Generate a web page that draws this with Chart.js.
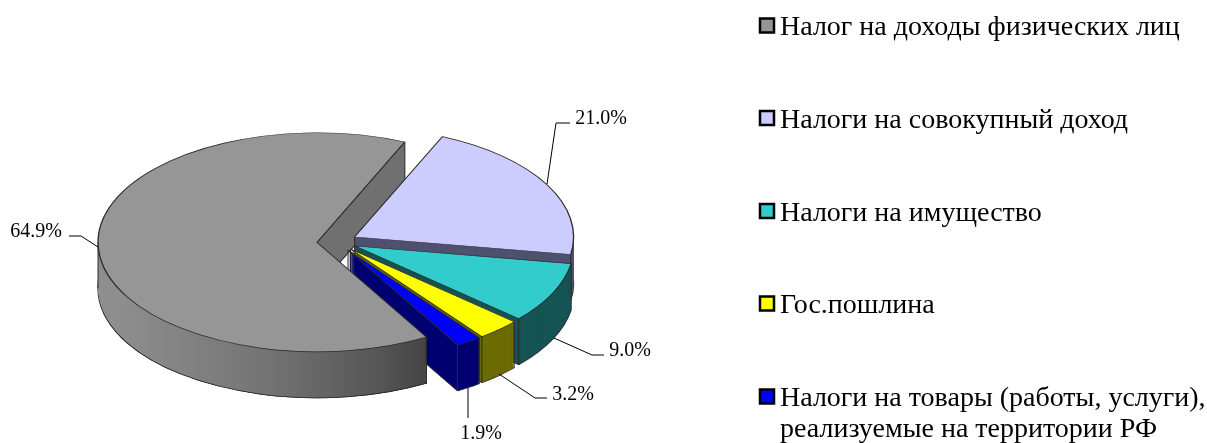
<!DOCTYPE html>
<html>
<head>
<meta charset="utf-8">
<script src="https://cdn.jsdelivr.net/npm/chart.js@4"></script>
<style>
  html, body { margin: 0; padding: 0; background: #fff; }
  #box { width: 1207px; height: 443px; }
</style>
</head>
<body>
<div id="box"><canvas id="taxPie"></canvas></div>
<script>
var categories = [
  "Налог на доходы физических лиц",
  "Налоги на совокупный доход",
  "Налоги на имущество",
  "Гос.пошлина",
  ["Налоги на товары (работы, услуги),", "реализуемые на территории РФ"]
];
var shares = [64.9, 21.0, 9.0, 3.2, 1.9];

var topColors = ["#969696", "#ccccff", "#33cccc", "#ffff00", "#0000ff"];
var sideColors = ["#707070", "#50506f", "#155454", "#6b6b00", "#000070"];

var SQUASH = 0.5;
var DEPTH = 46;
var EXPLODE = 20;
var EDGE = "#2b2b2b";

// leader lines and label spots for the percent labels, same order as shares
var leaders = [
  { pts: [[98, 247], [81, 236], [69, 236]], x: 36, y: 237 },
  { pts: [[547, 184], [556, 123], [570, 123]], x: 601, y: 124 },
  { pts: [[554, 338], [592, 355], [604, 355]], x: 630, y: 356 },
  { pts: [[499, 374], [535, 398], [547, 398]], x: 573, y: 400 },
  { pts: [[468, 388], [468, 418]], x: 481, y: 439 }
];
var legendY = [25.5, 118, 211, 303.5, 396.5];

function drawFace(ctx, el, dy, fill, borderWidth) {
  ctx.save();
  ctx.translate(0, el.y + dy);
  ctx.scale(1, SQUASH);
  ctx.translate(0, -el.y);
  var saved = { options: el.options, r: el.outerRadius, a: el.startAngle, b: el.endAngle };
  // Chart.js grows small exploded arcs and trims their ends a bit,
  // take that back out so all slices keep the same radius and true angles
  var grow = EXPLODE * (1 - Math.sin(Math.min(Math.PI, el.circumference)));
  var trim = (grow / Math.PI) / saved.r / 2;
  el.outerRadius = saved.r - grow;
  el.startAngle = saved.a - trim;
  el.endAngle = saved.b + trim;
  el.options = Object.assign({}, saved.options, {
    backgroundColor: fill,
    borderColor: EDGE,
    borderWidth: borderWidth
  });
  el.draw(ctx);
  el.options = saved.options;
  el.outerRadius = saved.r;
  el.startAngle = saved.a;
  el.endAngle = saved.b;
  ctx.restore();
}

function vertex(el) {
  var mid = (el.startAngle + el.endAngle) / 2;
  return {
    x: el.x + Math.cos(mid) * EXPLODE,
    y: el.y + Math.sin(mid) * EXPLODE * SQUASH
  };
}

function rim(el, a) {
  var v = vertex(el);
  return {
    x: v.x + Math.cos(a) * el.outerRadius,
    y: v.y + Math.sin(a) * el.outerRadius * SQUASH
  };
}

function drop(ctx, p) {
  ctx.strokeStyle = EDGE;
  ctx.lineWidth = 1;
  ctx.beginPath();
  ctx.moveTo(p.x, p.y);
  ctx.lineTo(p.x, p.y + DEPTH);
  ctx.stroke();
}

function drawBody(ctx, el, fill) {
  drawFace(ctx, el, DEPTH, fill, 1.3);
  for (var s = DEPTH - 1; s > 0; s--) {
    drawFace(ctx, el, s, fill, 0);
  }
}

function drawEdges(ctx, el) {
  drop(ctx, vertex(el));
  drop(ctx, rim(el, el.startAngle));
  drop(ctx, rim(el, el.endAngle));
}

function grayFill(ctx, el) {
  // the arc is shifted by the explode amount when it fills
  var g = ctx.createLinearGradient(el.x - el.outerRadius + EXPLODE, 0, el.x + 110 + EXPLODE, 0);
  g.addColorStop(0, "#8e8e8e");
  g.addColorStop(0.45, "#747474");
  g.addColorStop(0.8, "#555555");
  g.addColorStop(1, "#3c3c3c");
  return g;
}

var pie3d = {
  id: "pie3d",
  beforeDatasetsDraw: function (chart) {
    var ctx = chart.ctx;
    var arcs = chart.getDatasetMeta(0).data;
    var gray = arcs[0];
    var i;

    // gray body goes first so the other slices sit over its cut face
    drawBody(ctx, gray, grayFill(ctx, gray));
    var v = vertex(gray);
    var back = rim(gray, gray.endAngle);
    ctx.beginPath();
    ctx.moveTo(v.x, v.y);
    ctx.lineTo(back.x, back.y);
    ctx.lineTo(back.x, back.y + DEPTH);
    ctx.lineTo(v.x, v.y + DEPTH);
    ctx.closePath();
    ctx.fillStyle = sideColors[0];
    ctx.fill();
    ctx.strokeStyle = EDGE;
    ctx.lineWidth = 1;
    ctx.stroke();

    for (i = 1; i < arcs.length; i++) {
      drawBody(ctx, arcs[i], sideColors[i]);
      drawEdges(ctx, arcs[i]);
      drawFace(ctx, arcs[i], 0, topColors[i], 1.3);
    }

    // front part of the gray slice covers the navy face again
    var front = rim(gray, gray.startAngle);
    ctx.save();
    ctx.beginPath();
    ctx.rect(0, front.y, chart.width, chart.height);
    ctx.clip();
    drawBody(ctx, gray, grayFill(ctx, gray));
    drop(ctx, front);
    ctx.restore();
    drop(ctx, rim(gray, Math.PI));
    drawFace(ctx, gray, 0, topColors[0], 1.3);
    return false;
  },
  afterDraw: function (chart) {
    var ctx = chart.ctx;
    var i, j;
    ctx.save();
    ctx.textBaseline = "alphabetic";

    // percent labels
    ctx.font = "20px 'Liberation Serif'";
    ctx.fillStyle = "#000";
    ctx.textAlign = "center";
    for (i = 0; i < shares.length; i++) {
      var l = leaders[i];
      ctx.strokeStyle = "#000";
      ctx.lineWidth = 1;
      ctx.beginPath();
      for (j = 0; j < l.pts.length; j++) {
        if (j == 0) ctx.moveTo(l.pts[j][0], l.pts[j][1]);
        else ctx.lineTo(l.pts[j][0], l.pts[j][1]);
      }
      ctx.stroke();
      ctx.fillText(shares[i].toFixed(1) + "%", l.x, l.y);
    }

    // legend
    ctx.font = "28px 'Liberation Serif'";
    ctx.textAlign = "left";
    for (i = 0; i < categories.length; i++) {
      var y = legendY[i];
      ctx.fillStyle = topColors[i];
      ctx.fillRect(760, y - 7, 14, 14);
      ctx.strokeStyle = "#000";
      ctx.lineWidth = 2.5;
      ctx.strokeRect(760, y - 7, 14, 14);
      ctx.fillStyle = "#000";
      var lines = [].concat(categories[i]);
      for (j = 0; j < lines.length; j++) {
        ctx.fillText(lines[j], 780, y + 9.5 + j * 31);
      }
    }
    ctx.restore();
  }
};

new Chart(document.getElementById("taxPie"), {
  type: "pie",
  data: {
    labels: categories,
    datasets: [{
      data: shares,
      backgroundColor: topColors,
      borderColor: EDGE,
      borderWidth: 1,
      offset: EXPLODE * 4
    }]
  },
  options: {
    responsive: true,
    maintainAspectRatio: false,
    animation: false,
    rotation: 150,
    radius: 219,
    events: [],
    layout: { padding: { right: 533, top: 40.5 } },
    plugins: {
      legend: { display: false },
      tooltip: { enabled: false }
    }
  },
  plugins: [pie3d]
});
</script>
</body>
</html>
